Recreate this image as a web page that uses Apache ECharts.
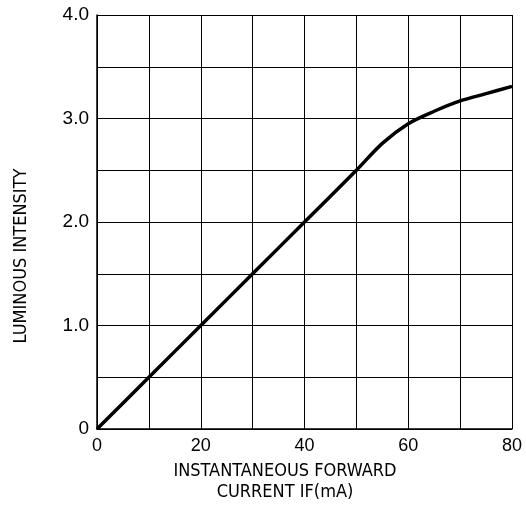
<!DOCTYPE html>
<html>
<head>
<meta charset="utf-8">
<script src="https://cdn.jsdelivr.net/npm/echarts@6/dist/echarts.min.js"></script>
<style>
  html, body { margin: 0; padding: 0; background: #fff; }
  #box { width: 526px; height: 507px; }
</style>
</head>
<body>
<div id="box"></div>
<script>
// forward current (mA) and relative luminous intensity
var currentMA = [0, 10, 20, 30, 40, 50, 55, 60, 65, 70, 75, 80]
var intensity = [0, 0.5, 1.0, 1.5, 2.0, 2.5, 2.76, 2.95, 3.07, 3.17, 3.24, 3.31]
var xTitle = ['INSTANTANEOUS FORWARD', 'CURRENT IF(mA)']
var yTitle = 'LUMINOUS INTENSITY'

var narrow = "'Liberation Sans Narrow', 'DejaVu Sans Condensed', 'Liberation Sans', sans-serif"
var plain = "'Liberation Sans', Arial, sans-serif"

var Chart = echarts.init(document.getElementById('box'))

var points = currentMA.map(function (x, i) { return [x, intensity[i]] })

var option = {
    animation: false,
    backgroundColor: '#fff',
    grid: { left: 97, top: 15, right: 14, bottom: 78 },
    xAxis: {
        type: 'value',
        min: 0,
        max: 80,
        interval: 10,
        axisLine: { show: true, lineStyle: { color: '#000', width: 1.5 } },
        axisTick: { show: false },
        splitLine: { show: true, lineStyle: { color: '#000', width: 1 } },
        axisLabel: {
            margin: 8,
            color: '#000',
            fontFamily: plain,
            fontSize: 18,
            formatter: function (v) { return v % 20 === 0 ? String(v) : '' }
        }
    },
    yAxis: {
        type: 'value',
        min: 0,
        max: 4,
        interval: 0.5,
        axisLine: { show: true, lineStyle: { color: '#000', width: 1.5 } },
        axisTick: { show: false },
        splitLine: { show: true, lineStyle: { color: '#000', width: 1 } },
        axisLabel: {
            margin: 8,
            color: '#000',
            fontFamily: plain,
            fontSize: 19,
            formatter: function (v) {
                if (v === 0) return '0'
                return v % 1 === 0 ? v.toFixed(1) : ''
            }
        }
    },
    graphic: [
        {
            type: 'text',
            x: 285, y: 471,
            style: { text: xTitle[0], fill: '#000', font: '18px ' + narrow, align: 'center', verticalAlign: 'middle' }
        },
        {
            type: 'text',
            x: 285, y: 492,
            style: { text: xTitle[1], fill: '#000', font: '18px ' + narrow, align: 'center', verticalAlign: 'middle' }
        },
        {
            type: 'text',
            x: 21, y: 256,
            rotation: Math.PI / 2,
            style: { text: yTitle, fill: '#000', font: '18px ' + narrow, align: 'center', verticalAlign: 'middle' }
        }
    ],
    series: [{
        type: 'line',
        data: points,
        smooth: 0.3,
        symbol: 'none',
        lineStyle: { color: '#000', width: 3.5 }
    }]
}

option && Chart.setOption(option)
</script>
</body>
</html>
